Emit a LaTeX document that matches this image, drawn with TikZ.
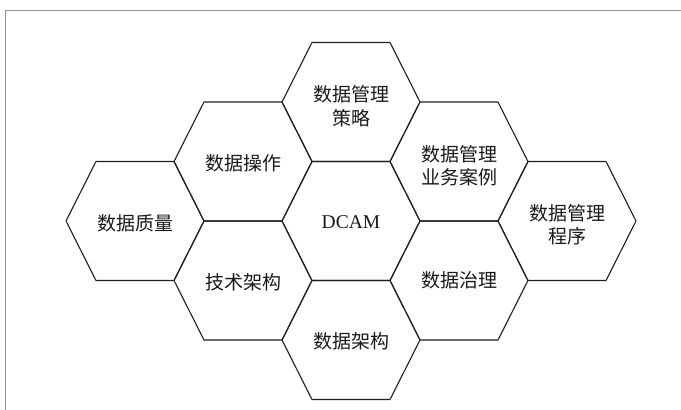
\documentclass[tikz,border=0pt]{standalone}
\usepackage{fontspec}
\usetikzlibrary{calc}
\newfontfamily\cjk{Noto Sans CJK SC}
\newfontfamily\tnr{Liberation Serif}
\begin{document}
\begin{tikzpicture}[x=1pt,y=-1pt,
  frameline/.style={draw=black!42,line width=1pt},
  hexline/.style={draw=black!88,line width=1.1pt,line join=miter},
  label/.style={align=center,inner sep=0pt,font=\cjk\fontsize{19}{23.5}\selectfont,text=black!90},
  latin/.style={inner sep=0pt,font=\tnr\fontsize{19.5}{23}\selectfont,text=black!90}]
\useasboundingbox (0,0) rectangle (681,410);
\coordinate (ftl) at (5,10);
\coordinate (ftr) at (681,10);
\coordinate (fbl) at (5,410);
\draw[frameline] (ftr) -- (ftl) -- (fbl);
% cell centres
\coordinate (c1) at (135,221);
\coordinate (c2a) at (243,161.5);
\coordinate (c2b) at (243,280.5);
\coordinate (c3a) at (351,102);
\coordinate (c3b) at (351,221);
\coordinate (c3c) at (351,340);
\coordinate (c4a) at (459,161.5);
\coordinate (c4b) at (459,280.5);
\coordinate (c5) at (567,221);
\foreach \c in {c1,c2a,c2b,c3a,c3b,c3c,c4a,c4b,c5}{
  \draw[hexline,shift={(\c)}] (-69,0) -- (-39,-59.5) -- (39,-59.5) -- (69,0) -- (39,59.5) -- (-39,59.5) -- cycle;
}
\node[label] (t1) at ($(c1)+(0,2)$) {数据质量};
\node[label] (t2a) at ($(c2a)+(0,2)$) {数据操作};
\node[label] (t2b) at ($(c2b)+(0,2)$) {技术架构};
\node[label] (t3a) at ($(c3a)+(0,4)$) {数据管理\\策略};
\node[latin] (t3b) at ($(c3b)+(0,1)$) {DCAM};
\node[label] (t3c) at ($(c3c)+(0,1)$) {数据架构};
\node[label] (t4a) at ($(c4a)+(0,4)$) {数据管理\\业务案例};
\node[label] (t4b) at ($(c4b)+(0,0)$) {数据治理};
\node[label] (t5) at ($(c5)+(0,4)$) {数据管理\\程序};
\end{tikzpicture}
\end{document}
